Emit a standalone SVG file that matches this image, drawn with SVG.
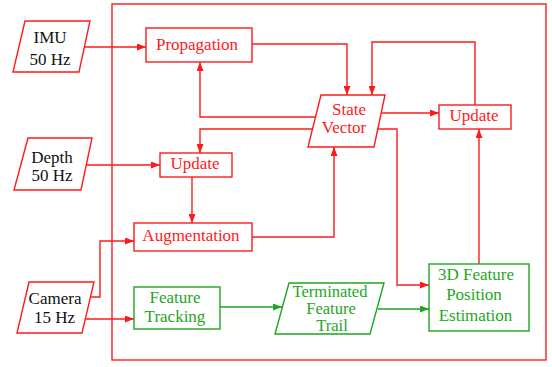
<svg xmlns="http://www.w3.org/2000/svg" width="552" height="367" viewBox="0 0 552 367">
<defs>
<style>
.r{fill:none;stroke:#ff1a1a;stroke-width:1.4}
.g{fill:none;stroke:#1fa51f;stroke-width:1.4}
.nr{fill:#fff;stroke:#ff1a1a;stroke-width:1.4}
.ng{fill:#fff;stroke:#1fa51f;stroke-width:1.4}
text{font-family:'Liberation Serif','DejaVu Serif',serif;font-size:17px;text-anchor:middle}
.sm{font-size:16.5px}
.tr{fill:#ff1a1a}
.tg{fill:#1fa51f}
.tk{fill:#111}
.ar{marker-end:url(#mr)}
.ag{marker-end:url(#mg)}
</style>
<marker id="mr" markerUnits="userSpaceOnUse" markerWidth="9" markerHeight="7" refX="9" refY="3.5" orient="auto"><path d="M0,0 L9,3.5 L0,7 z" fill="#ff1a1a"/></marker>
<marker id="mg" markerUnits="userSpaceOnUse" markerWidth="9" markerHeight="7" refX="9" refY="3.5" orient="auto"><path d="M0,0 L9,3.5 L0,7 z" fill="#1fa51f"/></marker>
</defs>
<rect id="frame" x="112" y="4" width="434" height="356" class="r" stroke-width="1.5"/>
<g id="connectors">
<path class="r ar" d="M85,47 H146"/>
<path class="r ar" d="M252,44 H347 V95"/>
<path class="r ar" d="M475,105 V42 H372 V95"/>
<path class="r ar" d="M382,113 H439"/>
<path class="r ar" d="M315,117 H200 V62"/>
<path class="r ar" d="M312,129 H200 V153"/>
<path class="r ar" d="M87,165 H160"/>
<path class="r ar" d="M192,177 V223"/>
<path class="r ar" d="M252,237 H334 V147"/>
<path class="r ar" d="M378,129 H397 V285 H429"/>
<path class="r ar" d="M479,264 V129"/>
<path class="r ar" d="M90,297 H100 V241 H134"/>
<path class="r ar" d="M86,319 H134"/>
<path class="g ag" d="M220,307 H282"/>
<path class="g ag" d="M378,309 H429"/>
</g>
<g id="imu">
<polygon class="nr" points="25,21 90,21 79,72 13,72"/>
<text class="tk" x="50" y="43">IMU</text>
<text class="tk" x="50" y="65">50 Hz</text>
</g>
<g id="depth">
<polygon class="nr" points="28,138 92,138 81,190 14,190"/>
<text class="tk" x="52" y="163">Depth</text>
<text class="tk" x="52" y="181">50 Hz</text>
</g>
<g id="camera">
<polygon class="nr" points="29,282 94,282 82,333 17,333"/>
<text class="tk" x="55" y="304">Camera</text>
<text class="tk" x="54.5" y="323">15 Hz</text>
</g>
<g id="propagation">
<rect class="nr" x="146" y="28" width="106" height="34"/>
<text class="tr" x="197" y="50">Propagation</text>
</g>
<g id="state-vector">
<polygon class="nr" points="321,95 385,95 374,147 308,147"/>
<text class="tr" x="349" y="115">State</text>
<text class="tr" x="344" y="133">Vector</text>
</g>
<g id="update-right">
<rect class="nr" x="439" y="105" width="72" height="24"/>
<text class="tr" x="474" y="121">Update</text>
</g>
<g id="update-left">
<rect class="nr" x="160" y="153" width="72" height="24"/>
<text class="tr" x="195" y="169">Update</text>
</g>
<g id="augmentation">
<rect class="nr" x="134" y="223" width="118" height="28"/>
<text class="tr" x="191" y="241">Augmentation</text>
</g>
<g id="feature-tracking">
<rect class="ng" x="134" y="287" width="86" height="42"/>
<text class="tg" x="175" y="303">Feature</text>
<text class="tg" x="175" y="322">Tracking</text>
</g>
<g id="terminated-trail">
<polygon class="ng" points="289,283 384,283 370,334 275,334"/>
<text class="tg sm" x="330" y="297">Terminated</text>
<text class="tg sm" x="331" y="314">Feature</text>
<text class="tg sm" x="332" y="331">Trail</text>
</g>
<g id="feature-position">
<rect class="ng" x="429" y="264" width="100" height="67"/>
<text class="tg" x="476" y="280">3D Feature</text>
<text class="tg" x="474" y="300">Position</text>
<text class="tg" x="475.5" y="321">Estimation</text>
</g>
</svg>
